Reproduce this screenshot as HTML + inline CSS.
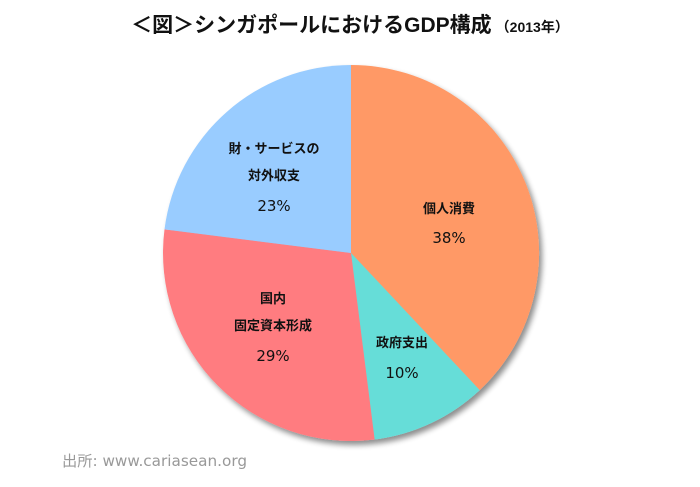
<!DOCTYPE html>
<html><head><meta charset="utf-8"><style>
body{margin:0;width:700px;height:482px;background:#fff;overflow:hidden}
svg text{font-family:"Liberation Sans","Noto Sans CJK JP",sans-serif}
svg text.v{font-family:"DejaVu Sans","Noto Sans CJK JP",sans-serif}
</style></head><body>
<svg width="700" height="482" viewBox="0 0 700 482">
<defs><filter id="sh" x="-20%" y="-20%" width="140%" height="140%"><feGaussianBlur in="SourceAlpha" stdDeviation="3"/><feOffset dx="3" dy="4"/><feComponentTransfer><feFuncA type="linear" slope="0.45"/></feComponentTransfer><feMerge><feMergeNode/><feMergeNode in="SourceGraphic"/></feMerge></filter></defs>
<text x="350" y="32" text-anchor="middle" font-size="21" font-weight="bold" fill="#111">＜図＞シンガポールにおけるGDP構成<tspan font-size="14" dx="4">（2013年）</tspan></text>
<g filter="url(#sh)">
<path d="M351,253 L351,65 A188,188 0 0 1 479.7,390.1 Z" fill="#FF9966"/>
<path d="M351,253 L479.7,390.1 A188,188 0 0 1 374.6,439.5 Z" fill="#66DDD8"/>
<path d="M351,253 L374.6,439.5 A188,188 0 0 1 164.5,229.4 Z" fill="#FF7B80"/>
<path d="M351,253 L164.5,229.4 A188,188 0 0 1 351,65 Z" fill="#99CCFF"/>
</g>
<g font-size="13" font-weight="bold" fill="#111" text-anchor="middle">
<text x="449" y="213">個人消費</text>
<text x="402" y="347">政府支出</text>
<text x="273" y="303">国内</text>
<text x="273" y="330">固定資本形成</text>
<text x="274" y="153">財・サービスの</text>
<text x="274" y="180">対外収支</text>
</g>
<g font-size="15" fill="#111" text-anchor="middle">
<text class="v" x="449" y="243">38%</text>
<text class="v" x="402" y="378">10%</text>
<text class="v" x="273" y="361">29%</text>
<text class="v" x="274" y="211">23%</text>
</g>
<text class="v" x="62" y="466" font-size="15" fill="#999" textLength="185" lengthAdjust="spacingAndGlyphs">出所: www.cariasean.org</text>
</svg>
</body></html>
